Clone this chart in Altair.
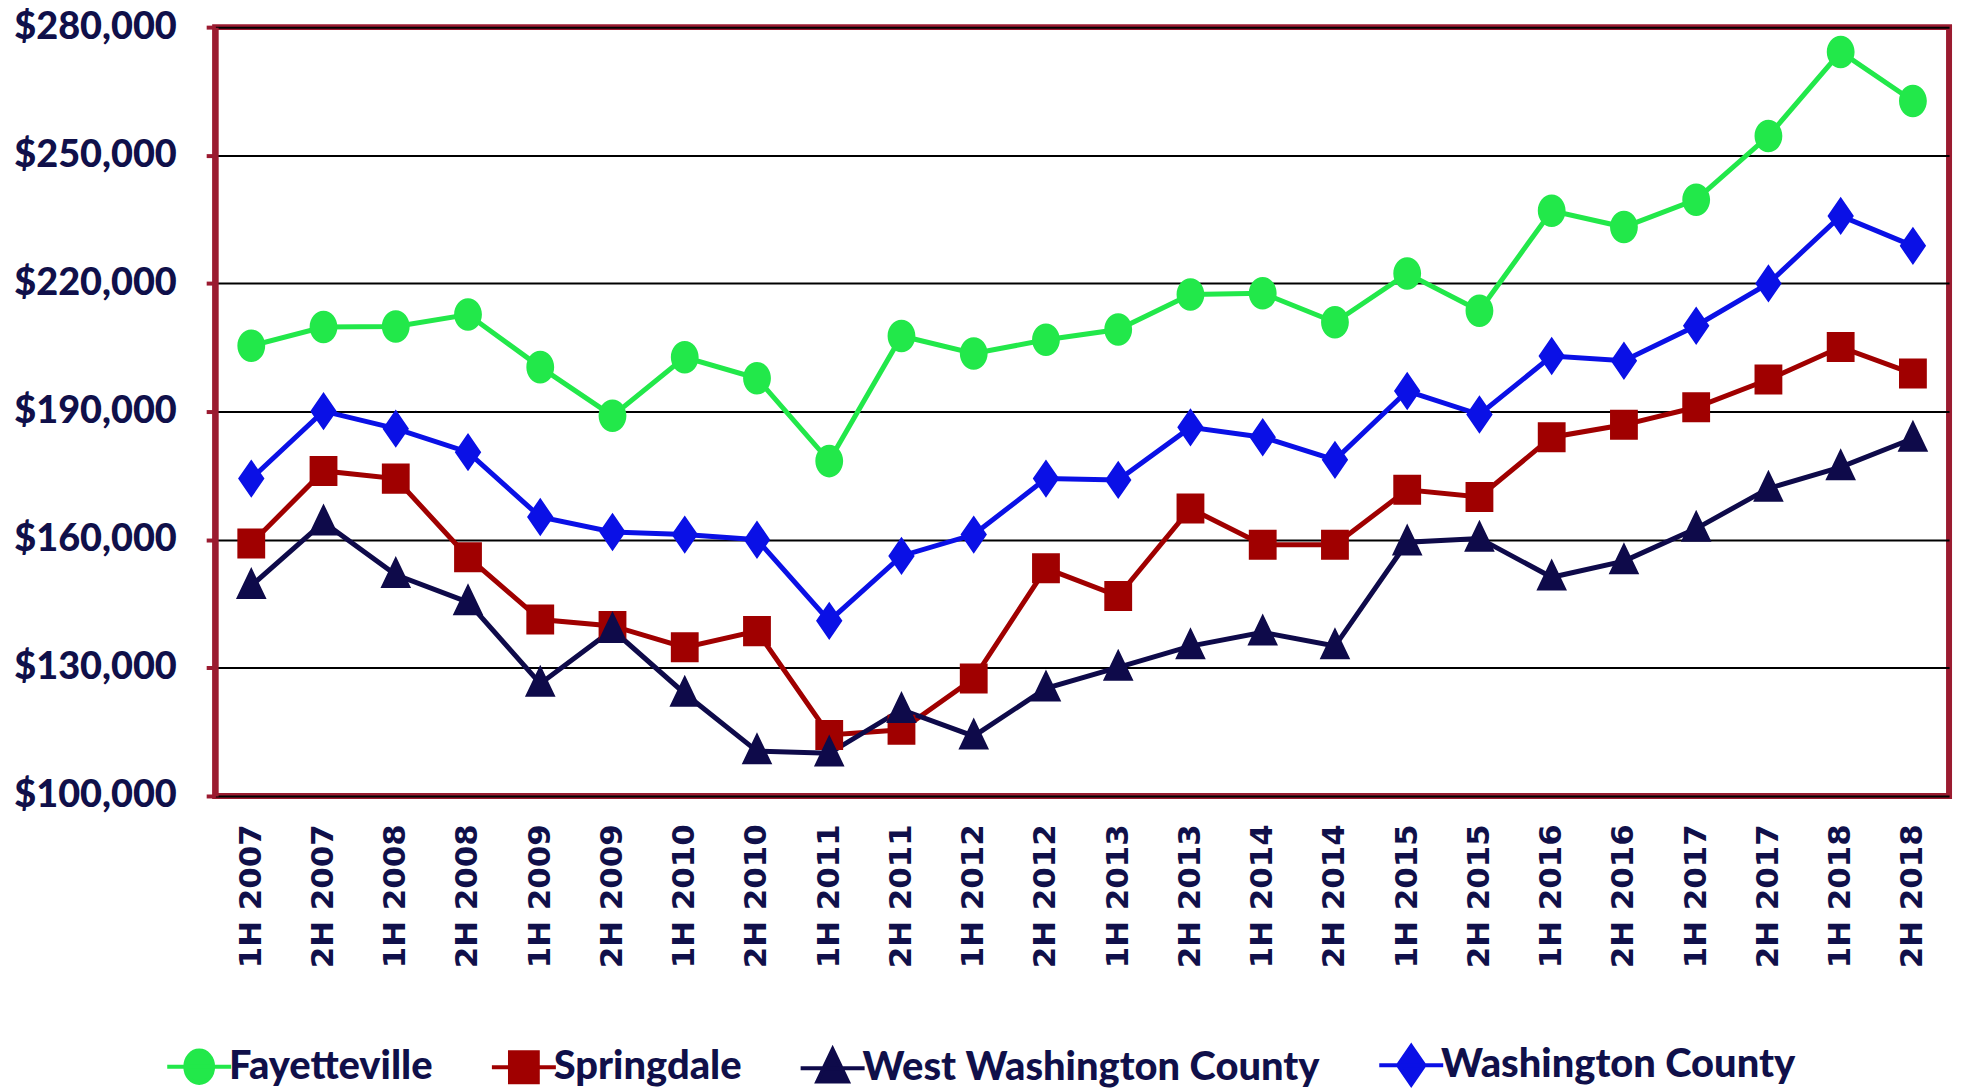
import altair as alt
import pandas as pd

periods = ["1H 2007", "2H 2007", "1H 2008", "2H 2008", "1H 2009", "2H 2009",
           "1H 2010", "2H 2010", "1H 2011", "2H 2011", "1H 2012", "2H 2012",
           "1H 2013", "2H 2013", "1H 2014", "2H 2014", "1H 2015", "2H 2015",
           "1H 2016", "2H 2016", "1H 2017", "2H 2017", "1H 2018", "2H 2018"]

series_names = ["Fayetteville", "Springdale", "West Washington County", "Washington County"]

fayetteville = [205400, 209800, 209900, 212700, 200400, 189000, 202700, 197800,
                178400, 207700, 203600, 206800, 209200, 217400, 217700, 210900,
                222300, 213600, 237000, 233200, 239600, 254500, 274200, 262700]
springdale = [159100, 176100, 174300, 155900, 141300, 139800, 134800, 138600,
              114300, 115500, 127500, 153300, 146800, 167300, 158800, 158800,
              171700, 170000, 184000, 186900, 191000, 197500, 205100, 198900]
west_washington = [149200, 164100, 151800, 145400, 126300, 138900, 124000, 110500,
                   110000, 120200, 114000, 125200, 130100, 135100, 138300, 135100,
                   159400, 160300, 151200, 155000, 162600, 172000, 177000, 183700]
washington = [174300, 190100, 186000, 180500, 165300, 161800, 161200, 160000,
              141000, 156200, 161200, 174300, 174000, 186300, 184000, 178700,
              194800, 189300, 203000, 201900, 210100, 220000, 235800, 228800]

colors = ["#22E84A", "#A00000", "#0E0A4A", "#0A10E6"]
# marker outlines; the horizontal stroke only shows in the legend (points have no stroke)
shapes = [
    "M-2.3,0 H2.3 M-1,0 A1,1.17 0 1,1 1,0 A1,1.17 0 1,1 -1,0 Z",
    "M-2.3,0 H2.3 M-1,-1.08 H1 V1.08 H-1 Z",
    "M-2.3,0 H2.3 M0,-1.35 L1.1,0.95 L-1.1,0.95 Z",
    "M-2.3,0 H2.3 M0,-1.38 L0.95,0 L0,1.38 L-0.95,0 Z",
]

rows = []
for name, vals in zip(series_names, [fayetteville, springdale, west_washington, washington]):
    for p, v in zip(periods, vals):
        rows.append({"period": p, "series": name, "value": v})
df = pd.DataFrame(rows)

text_color = "#10104A"
frame_color = "#9B1B30"

x = alt.X("period:N", sort=periods, title=None,
          scale=alt.Scale(padding=0.5),
          axis=alt.Axis(labelAngle=-90, labelFont="DejaVu Sans", labelFontWeight="bold",
                        labelFontSize=31, labelColor=text_color, labelPadding=28,
                        ticks=False, domain=False, grid=False, labelAlign="right",
                        labelBaseline="middle"))
y = alt.Y("value:Q", title=None,
          scale=alt.Scale(domain=[100000, 280000], nice=False, zero=False),
          axis=alt.Axis(values=[100000, 130000, 160000, 190000, 220000, 250000, 280000],
                        format="$,.0f", labelFont="Lato", labelFontWeight=900,
                        labelFontSize=38, labelColor=text_color, labelPadding=30,
                        tickColor=frame_color, tickWidth=4, tickSize=9,
                        domainColor=frame_color, domainWidth=6,
                        grid=True, gridColor="#000000", gridWidth=2))

legend = alt.Legend(orient="none", direction="horizontal", title=None,
                    legendX=-36, legendY=1022,
                    labelFont="Lato", labelFontWeight=900, labelLimit=0,
                    labelFontSize=40, labelColor=text_color,
                    symbolSize=780, labelOffset=10, columnPadding=50,
                    symbolStrokeWidth=4)
color = alt.Color("series:N", sort=series_names,
                  scale=alt.Scale(domain=series_names, range=colors), legend=legend)
stroke = alt.Stroke("series:N", sort=series_names,
                    scale=alt.Scale(domain=series_names, range=colors), legend=legend)
shape = alt.Shape("series:N", sort=series_names,
                  scale=alt.Scale(domain=series_names, range=shapes), legend=legend)

lines = alt.Chart(df).mark_line(strokeWidth=5).encode(
    x=x, y=y, color=color, detail="series:N")
points = alt.Chart(df).mark_point(filled=True, size=780, opacity=1, strokeWidth=0).encode(
    x=x, y=y, color=color, stroke=stroke, shape=shape)

chart = alt.layer(lines, points).properties(
    width=1741, height=772,
    background="white",
    autosize=alt.AutoSizeParams(type="none"),
    padding={"left": 208, "top": 17, "right": 10, "bottom": 291},
).configure_view(stroke=frame_color, strokeWidth=6)

chart.save("out.html", embed_options={"renderer": "svg", "actions": False})
